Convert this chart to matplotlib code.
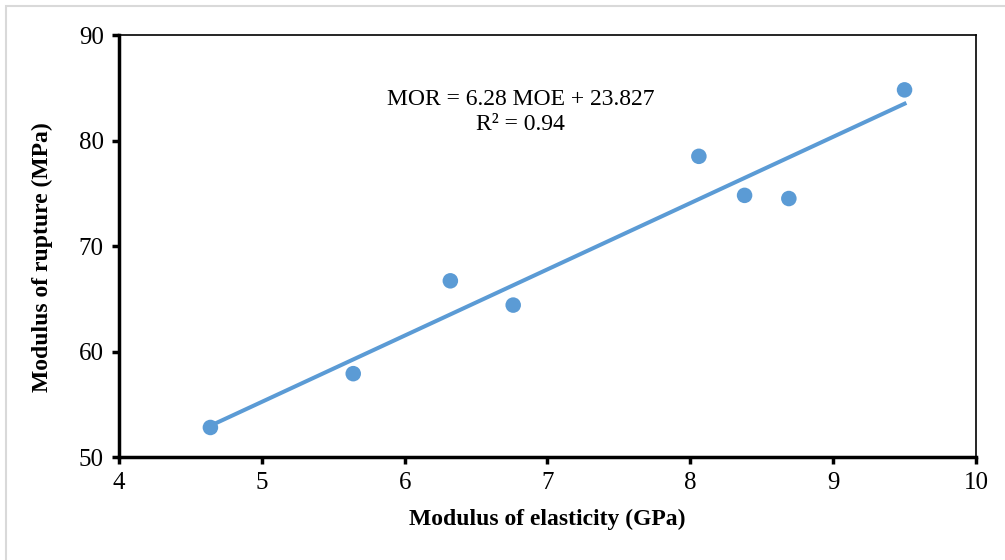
import matplotlib.pyplot as plt
import numpy as np
from matplotlib.patches import Rectangle

# dados
moe = [4.64, 5.64, 6.32, 6.76, 8.06, 8.38, 8.69, 9.50]
mor = [52.8, 57.9, 66.7, 64.4, 78.5, 74.8, 74.5, 84.8]
slope, intercept = 6.28, 23.827

plt.rcParams['font.family'] = ['Liberation Serif', 'DejaVu Serif']

fig = plt.figure(figsize=(10.05, 5.6), dpi=100)
ax = fig.add_axes([0.1184, 0.1839, 0.8527, 0.7536])

cor = '#5B9BD5'
ax.scatter(moe, mor, s=125, color=cor, zorder=3, edgecolors='none')
xs = np.array([min(moe), max(moe)])
ax.plot(xs, slope * xs + intercept, color=cor, linewidth=2.9, zorder=2)

ax.set_xlim(4, 10)
ax.set_ylim(50, 90)
ax.set_xticks(range(4, 11))
ax.set_yticks(range(50, 91, 10))
ax.tick_params(labelsize=18, direction='out', length=5, width=2.5, color='black', pad=6)

for lado in ['left', 'bottom']:
    ax.spines[lado].set_linewidth(2.5)
for lado in ['top', 'right']:
    ax.spines[lado].set_linewidth(1.2)

ax.set_xlabel('Modulus of elasticity (GPa)', fontsize=17, fontweight='bold')
ax.set_ylabel('Modulus of rupture (MPa)', fontsize=17, fontweight='bold')
ax.xaxis.set_label_coords(0.5, -0.149)
ax.xaxis.label.set_va('center')
ax.yaxis.set_label_coords(-0.0898, 0.474)
ax.yaxis.label.set_va('center')
ax.yaxis.label.set_ha('center')

ax.text(6.814, 82.7, 'MOR = 6.28 MOE + 23.827\nR² = 0.94', fontsize=17,
        ha='center', va='center', multialignment='center', linespacing=1.3)

# moldura cinza em volta
fig.patches.append(Rectangle((6 / 1005, -0.1), 1.2, 1 - 6 / 560 + 0.1, fill=False,
                             transform=fig.transFigure, edgecolor='#d9d9d9', linewidth=1.5))

fig.savefig('out.png', dpi=100)
